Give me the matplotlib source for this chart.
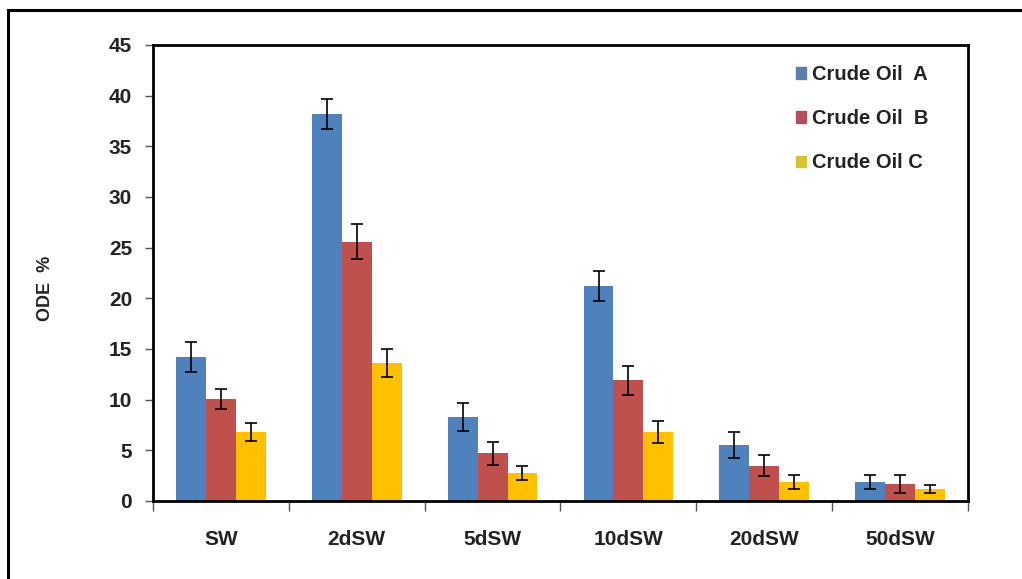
import numpy as np
import matplotlib.pyplot as plt
from matplotlib.patches import Rectangle

plt.rcParams['font.family'] = ['Liberation Sans', 'DejaVu Sans']

categories = ['SW', '2dSW', '5dSW', '10dSW', '20dSW', '50dSW']
series_names = ['Crude Oil  A', 'Crude Oil  B', 'Crude Oil C']
oil_a = [14.2, 38.2, 8.3, 21.2, 5.5, 1.9]
oil_b = [10.1, 25.6, 4.7, 11.9, 3.5, 1.7]
oil_c = [6.8, 13.6, 2.8, 6.8, 1.9, 1.2]
err_a = [1.5, 1.5, 1.4, 1.5, 1.3, 0.7]
err_b = [1.0, 1.7, 1.15, 1.4, 1.0, 0.9]
err_c = [0.9, 1.4, 0.7, 1.05, 0.7, 0.4]

colors = ['#4F81BD', '#C0504D', '#FFC000']
legend_colors = ['#5b7fad', '#b0505f', '#d9c232']

fig = plt.figure(figsize=(10.22, 5.79), dpi=100)
# outer frame around the chart area
fig.patches.append(Rectangle((8 / 1022, -0.1), 1.2, 1 - 10 / 579 + 0.1,
                             transform=fig.transFigure, fill=False,
                             edgecolor='black', linewidth=2.2))

ax = fig.add_axes([153 / 1022, 1 - 501 / 579, (968 - 153) / 1022, (501 - 45) / 579])

x = np.arange(len(categories))
w = 0.22
values = [oil_a, oil_b, oil_c]
errors = [err_a, err_b, err_c]
for i in range(3):
    ax.bar(x + (i - 1) * w, values[i], w, color=colors[i], label=series_names[i],
           yerr=errors[i], capsize=4.5,
           error_kw=dict(ecolor='black', elinewidth=1.2, capthick=1.2))

ax.set_xlim(-0.5, len(categories) - 0.5)
ax.set_ylim(0, 45)
ax.set_yticks(np.arange(0, 46, 5))
ax.set_xticks(x)
ax.set_xticklabels(categories, fontsize=15, fontweight='bold', color='#222222')
ax.set_xticks(np.arange(-0.5, len(categories), 1), minor=True)
ax.tick_params(axis='x', which='major', length=0, pad=21)
ax.tick_params(axis='x', which='minor', length=7, direction='out', width=1, color='#555555')
ax.tick_params(axis='y', length=6, direction='out', width=1, color='#555555',
               labelsize=15, pad=9, labelcolor='#222222')
for lab in ax.get_yticklabels():
    lab.set_fontweight('bold')

for side in ['left', 'right', 'top', 'bottom']:
    ax.spines[side].set_linewidth(2)
    ax.spines[side].set_color('black')

fig.text(46 / 1022, 1 - 288 / 579, 'ODE  %', rotation=90, ha='center', va='center',
         fontsize=13, fontweight='bold', color='#222222')

handles = [Rectangle((0, 0), 1, 1, color=c) for c in legend_colors]
leg = ax.legend(handles, series_names, loc='upper left',
                bbox_to_anchor=(786 / 1022, 1 - 55 / 579), bbox_transform=fig.transFigure,
                frameon=False, handlelength=0.5, handleheight=0.5, handletextpad=0.3,
                labelspacing=1.25, borderpad=0, prop={'size': 14.5, 'weight': 'bold'})
for t in leg.get_texts():
    t.set_color('#222222')

fig.savefig('out.png', dpi=100)
